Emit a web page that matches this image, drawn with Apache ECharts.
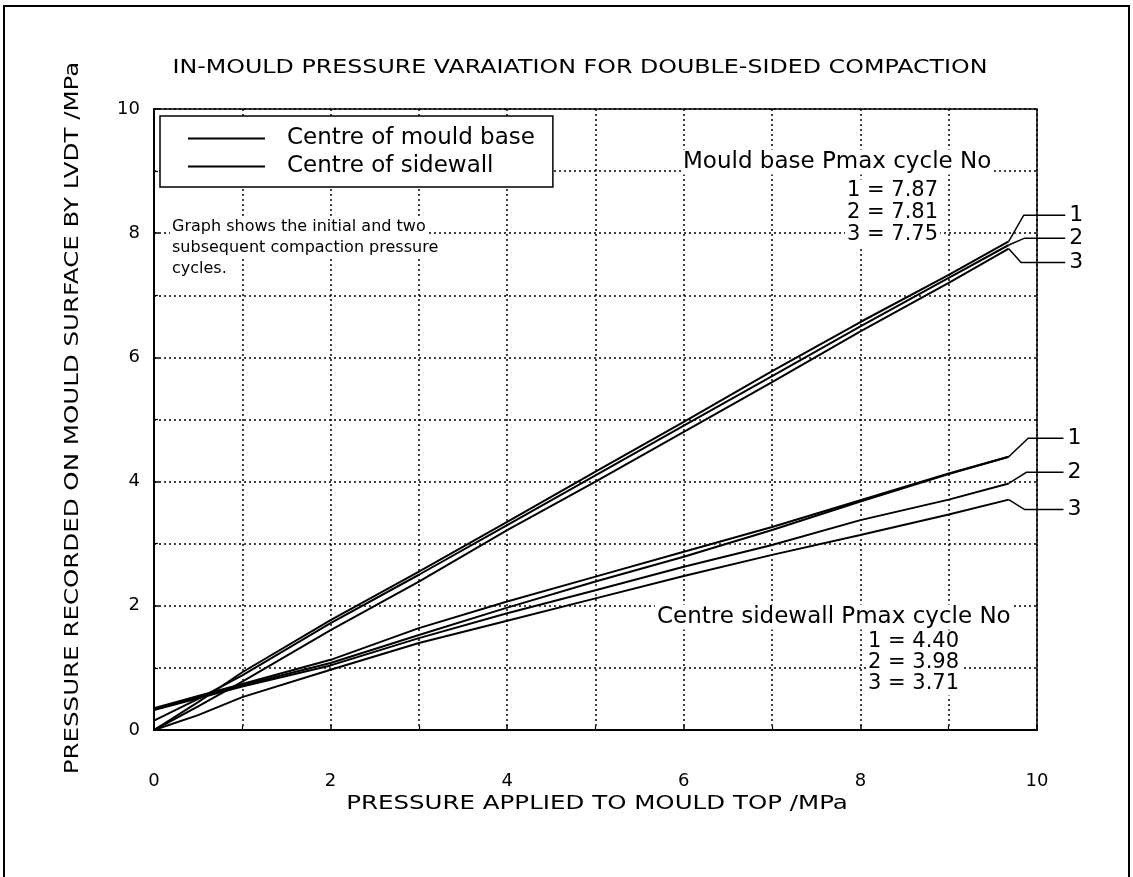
<!DOCTYPE html>
<html>
<head>
<meta charset="utf-8">
<script src="https://cdn.jsdelivr.net/npm/echarts@6/dist/echarts.min.js"></script>
<style>html,body{margin:0;padding:0;background:#fff}#c{width:1133px;height:877px}</style>
</head>
<body>
<div id="c"></div>
<script>
// ---- data ----
const xs = [0, 0.5, 1, 2, 3, 4, 5, 6, 7, 8, 9, 9.68];
const base1 = [0, 0.45, 0.93, 1.77, 2.55, 3.35, 4.16, 4.96, 5.78, 6.57, 7.33, 7.87];
const base2 = [0.15, 0.50, 0.88, 1.72, 2.50, 3.30, 4.10, 4.90, 5.70, 6.50, 7.28, 7.81];
const base3 = [0, 0.38, 0.78, 1.61, 2.39, 3.22, 4.00, 4.80, 5.60, 6.42, 7.20, 7.75];
const side1 = [0.35, 0.55, 0.74, 1.13, 1.64, 2.07, 2.47, 2.87, 3.27, 3.70, 4.13, 4.40];
const side2 = [0.33, 0.53, 0.72, 1.08, 1.53, 1.97, 2.39, 2.79, 3.22, 3.68, 4.12, 4.40];
const side3 = [0.32, 0.51, 0.70, 1.04, 1.48, 1.88, 2.25, 2.63, 2.98, 3.38, 3.71, 3.97];
const side4 = [0, 0.24, 0.53, 0.97, 1.40, 1.76, 2.12, 2.48, 2.82, 3.14, 3.47, 3.71];
const baseLeaders = [
  [[9.68, 7.87], [9.85, 8.29], [10.32, 8.29]],
  [[9.68, 7.81], [9.86, 7.92], [10.32, 7.92]],
  [[9.68, 7.75], [9.82, 7.53], [10.32, 7.53]]
];
const sideLeaders = [
  [[9.68, 4.40], [9.90, 4.70], [10.30, 4.70]],
  [[9.68, 3.97], [9.88, 4.15], [10.30, 4.15]],
  [[9.68, 3.71], [9.86, 3.55], [10.30, 3.55]]
];
const leaderLabels = ['1', '2', '3'];
const basePmax = ['1 = 7.87', '2 = 7.81', '3 = 7.75'];
const sidePmax = ['1 = 4.40', '2 = 3.98', '3 = 3.71'];
const legendNames = ['Centre of mould base', 'Centre of sidewall'];
const titleText = 'IN-MOULD PRESSURE VARAIATION FOR DOUBLE-SIDED COMPACTION';
const xName = 'PRESSURE APPLIED TO MOULD TOP /MPa';
const yName = 'PRESSURE RECORDED ON MOULD SURFACE BY LVDT /MPa';
const noteLines = ['Graph shows the initial and two', 'subsequent compaction pressure', 'cycles.'];

// ---- chart ----
const FONT = 'DejaVu Sans';
const pair = (ys) => xs.map((x, i) => [x, ys[i]]);
const gridLine = { type: [2, 3], color: '#000', width: 1.5 };

function dataSeries(name, ys) {
  return {
    type: 'line', name, data: pair(ys), symbol: 'none', smooth: false,
    lineStyle: { color: '#000', width: 2 }, itemStyle: { color: '#000' },
    animation: false, z: 3
  };
}

const series = [
  dataSeries(legendNames[0], base1),
  dataSeries(legendNames[0], base2),
  dataSeries(legendNames[0], base3),
  dataSeries(legendNames[1], side1),
  dataSeries(legendNames[1], side2),
  dataSeries(legendNames[1], side3),
  dataSeries(legendNames[1], side4)
];

function txt(text, x, y, size, align, extra) {
  return Object.assign({
    type: 'text', x, y, z: 100,
    style: { text, font: size + 'px "' + FONT + '"', fill: '#000', align: align || 'left',
      verticalAlign: 'middle', backgroundColor: '#fff', padding: [1, 2] }
  }, extra || {});
}

const axisCommon = {
  type: 'value', min: 0, max: 10, interval: 2,
  axisLine: { show: true, lineStyle: { color: '#000', width: 2 } },
  axisTick: { show: true, inside: true, length: 5, lineStyle: { color: '#000', width: 1.5 } },
  minorTick: { show: true, splitNumber: 2, length: 4, lineStyle: { color: '#000', width: 1.2 } },
  splitLine: { show: true, lineStyle: gridLine },
  minorSplitLine: { show: true, lineStyle: gridLine }
};

const chart = echarts.init(document.getElementById('c'), null, { renderer: 'canvas' });
chart.setOption({
  backgroundColor: '#fff',
  animation: false,
  grid: { left: 154, right: 96, top: 109, bottom: 147, show: true, borderColor: '#000', borderWidth: 1.5 },
  legend: {
    data: legendNames, left: 160, top: 116, orient: 'vertical',
    padding: [11, 18, 9, 28], borderColor: '#000', borderWidth: 1.5, backgroundColor: '#fff',
    itemWidth: 77, itemHeight: 2, itemGap: 5, z: 10, icon: 'rect',
    itemStyle: { color: '#000' },
    textStyle: { color: '#000', fontSize: 23, fontFamily: FONT, lineHeight: 20, padding: [0, 0, 0, 17] }
  },
  xAxis: Object.assign({}, axisCommon, {
    axisLabel: { margin: 42, color: '#000', fontSize: 18, fontFamily: FONT }
  }),
  yAxis: Object.assign({}, axisCommon, {
    axisLabel: { margin: 14, color: '#000', fontSize: 18, fontFamily: FONT }
  }),
  series
});

// annotations, leader lines through the chart's own scales
const graphics = [
  { type: 'polyline', z: 100, shape: { points: [[4, 877], [4, 6], [1129, 6], [1129, 877]] },
    style: { stroke: '#000', lineWidth: 2, fill: null } },
  txt(titleText, 580, 68, 19, 'center', { scaleX: 1.25 }),
  txt(xName, 597, 804, 19, 'center', { scaleX: 1.29 }),
  txt(yName, 73, 418, 19, 'center', { rotation: Math.PI / 2, scaleX: 1.29 }),
  txt('Mould base Pmax cycle No', 681, 162, 23),
  txt('Centre sidewall Pmax cycle No', 655, 617, 23)
];
noteLines.forEach((t, i) => graphics.push(txt(t, 170, 227 + i * 21, 16)));
basePmax.forEach((t, i) => graphics.push(txt(t, 845, 191 + i * 22, 21)));
sidePmax.forEach((t, i) => graphics.push(txt(t, 866, 642 + i * 21, 21)));
baseLeaders.concat(sideLeaders).forEach((pts, k) => {
  const px = pts.map(p => chart.convertToPixel({ gridIndex: 0 }, p));
  graphics.push({ type: 'polyline', z: 90, shape: { points: px },
    style: { stroke: '#000', lineWidth: 1.5, fill: null } });
  const end = px[px.length - 1];
  graphics.push({ type: 'text', x: end[0] + 4, y: end[1], z: 100,
    style: { text: leaderLabels[k % 3], font: '22px "' + FONT + '"', fill: '#000',
      align: 'left', verticalAlign: 'middle' } });
});
chart.setOption({ graphic: graphics });
</script>
</body>
</html>
